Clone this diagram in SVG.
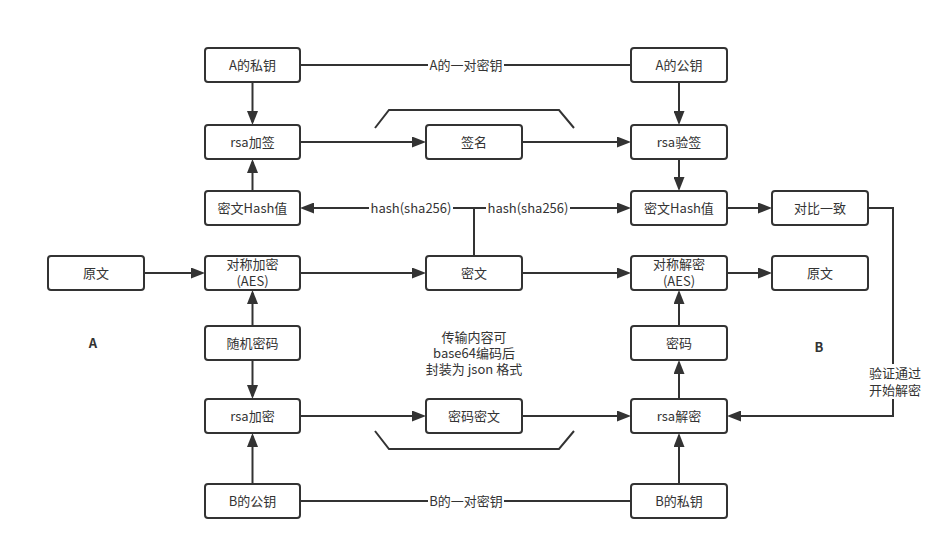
<svg xmlns="http://www.w3.org/2000/svg" width="926" height="549" viewBox="0 0 926 549">
<defs>
<style>
.box{fill:#fff;stroke:#333;stroke-width:2}
.t{font-family:"Noto Sans CJK SC","Liberation Sans",sans-serif;font-size:13px;fill:#333;text-anchor:middle}
.b{font-weight:bold}
.ln{fill:none;stroke:#333;stroke-width:2}
.arr{marker-end:url(#ah)}
.bg{fill:#fff}
</style>
<marker id="ah" viewBox="0 0 14 11" refX="11" refY="5.5" markerWidth="14" markerHeight="11" markerUnits="userSpaceOnUse" orient="auto">
<path d="M0,0 L14,5.5 L0,11 z" fill="#333"/>
</marker>
</defs>
<rect width="926" height="549" fill="#fff"/>

<g id="connectors">
<path class="ln" d="M300,65 H631"/>
<path class="ln arr" d="M252.5,82 V122"/>
<path class="ln arr" d="M252.5,191 V162"/>
<path class="ln arr" d="M300,142 H423"/>
<path class="ln arr" d="M522,142 H628"/>
<path class="ln" d="M474,256 V208"/>
<path class="ln arr" d="M474,208 H303"/>
<path class="ln arr" d="M474,208 H628"/>
<path class="ln arr" d="M144,273 H202"/>
<path class="ln arr" d="M300,273 H423"/>
<path class="ln arr" d="M522,273 H628"/>
<path class="ln arr" d="M252.5,326 V293"/>
<path class="ln arr" d="M252.5,360 V396"/>
<path class="ln arr" d="M252.5,484 V436"/>
<path class="ln arr" d="M300,416 H423"/>
<path class="ln arr" d="M522,416 H628"/>
<path class="ln" d="M300,501 H631"/>
<path class="ln arr" d="M679,484 V436"/>
<path class="ln arr" d="M679,399 V363"/>
<path class="ln arr" d="M679,326 V293"/>
<path class="ln arr" d="M727,273 H769"/>
<path class="ln arr" d="M679,82 V122"/>
<path class="ln arr" d="M679,159 V188"/>
<path class="ln arr" d="M727,208 H769"/>
<path class="ln arr" d="M868,208 H893 V416 H730"/>
<polyline class="ln" points="375,128 389,110 559,110 574,128"/>
<polyline class="ln" points="375,431 389,449 559,449 574,431"/>
<rect class="bg" x="428" y="57" width="76" height="16"/>
<text class="t" x="466" y="69.5">A的一对密钥</text>
<rect class="bg" x="428" y="493" width="76" height="16"/>
<text class="t" x="466" y="505.5">B的一对密钥</text>
<rect class="bg" x="369" y="200" width="84" height="16"/>
<text class="t" x="411" y="212.5">hash(sha256)</text>
<rect class="bg" x="486" y="200" width="84" height="16"/>
<text class="t" x="528" y="212.5">hash(sha256)</text>
<rect class="bg" x="866" y="364" width="58" height="35"/>
<text class="t" x="895" y="377.5">验证通过</text>
<text class="t" x="895" y="394.5">开始解密</text>
</g>

<g id="n-a-priv"><rect class="box" x="205" y="48" width="95" height="34" rx="3"/><text class="t" x="252.5" y="69.5">A的私钥</text></g>
<g id="n-rsa-sign"><rect class="box" x="205" y="125" width="95" height="34" rx="3"/><text class="t" x="252.5" y="146.5">rsa加签</text></g>
<g id="n-hash-a"><rect class="box" x="205" y="191" width="95" height="34" rx="3"/><text class="t" x="252.5" y="212.5">密文Hash值</text></g>
<g id="n-aes-enc"><rect class="box" x="205" y="256" width="95" height="34" rx="3"/><text class="t" x="252.5" y="269">对称加密</text><text class="t" x="252.5" y="286">(AES)</text></g>
<g id="n-rand"><rect class="box" x="205" y="326" width="95" height="34" rx="3"/><text class="t" x="252.5" y="347.5">随机密码</text></g>
<g id="n-rsa-enc"><rect class="box" x="205" y="399" width="95" height="34" rx="3"/><text class="t" x="252.5" y="420.5">rsa加密</text></g>
<g id="n-b-pub"><rect class="box" x="205" y="484" width="95" height="34" rx="3"/><text class="t" x="252.5" y="505.5">B的公钥</text></g>

<g id="n-plain-a"><rect class="box" x="48" y="256" width="96" height="34" rx="3"/><text class="t" x="96" y="277.5">原文</text></g>

<g id="n-sig"><rect class="box" x="426" y="125" width="96" height="34" rx="3"/><text class="t" x="474" y="146.5">签名</text></g>
<g id="n-cipher"><rect class="box" x="426" y="256" width="96" height="34" rx="3"/><text class="t" x="474" y="277.5">密文</text></g>
<g id="n-keycipher"><rect class="box" x="426" y="399" width="96" height="34" rx="3"/><text class="t" x="474" y="420.5">密码密文</text></g>

<g id="n-a-pub"><rect class="box" x="631" y="48" width="96" height="34" rx="3"/><text class="t" x="679" y="69.5">A的公钥</text></g>
<g id="n-rsa-verify"><rect class="box" x="631" y="125" width="96" height="34" rx="3"/><text class="t" x="679" y="146.5">rsa验签</text></g>
<g id="n-hash-b"><rect class="box" x="631" y="191" width="96" height="34" rx="3"/><text class="t" x="679" y="212.5">密文Hash值</text></g>
<g id="n-aes-dec"><rect class="box" x="631" y="256" width="96" height="34" rx="3"/><text class="t" x="679" y="269">对称解密</text><text class="t" x="679" y="286">(AES)</text></g>
<g id="n-key"><rect class="box" x="631" y="326" width="96" height="34" rx="3"/><text class="t" x="679" y="347.5">密码</text></g>
<g id="n-rsa-dec"><rect class="box" x="631" y="399" width="96" height="34" rx="3"/><text class="t" x="679" y="420.5">rsa解密</text></g>
<g id="n-b-priv"><rect class="box" x="631" y="484" width="96" height="34" rx="3"/><text class="t" x="679" y="505.5">B的私钥</text></g>

<g id="n-compare"><rect class="box" x="772" y="191" width="96" height="34" rx="3"/><text class="t" x="820" y="212.5">对比一致</text></g>
<g id="n-plain-b"><rect class="box" x="772" y="256" width="96" height="34" rx="3"/><text class="t" x="820" y="277.5">原文</text></g>

<g id="labels">
<text class="t b" x="93" y="347.5">A</text>
<text class="t b" x="819" y="351.5">B</text>
<text class="t" x="474" y="341.5">传输内容可</text>
<text class="t" x="474" y="357.5">base64编码后</text>
<text class="t" x="474" y="373.5">封装为 json 格式</text>
</g>
</svg>
